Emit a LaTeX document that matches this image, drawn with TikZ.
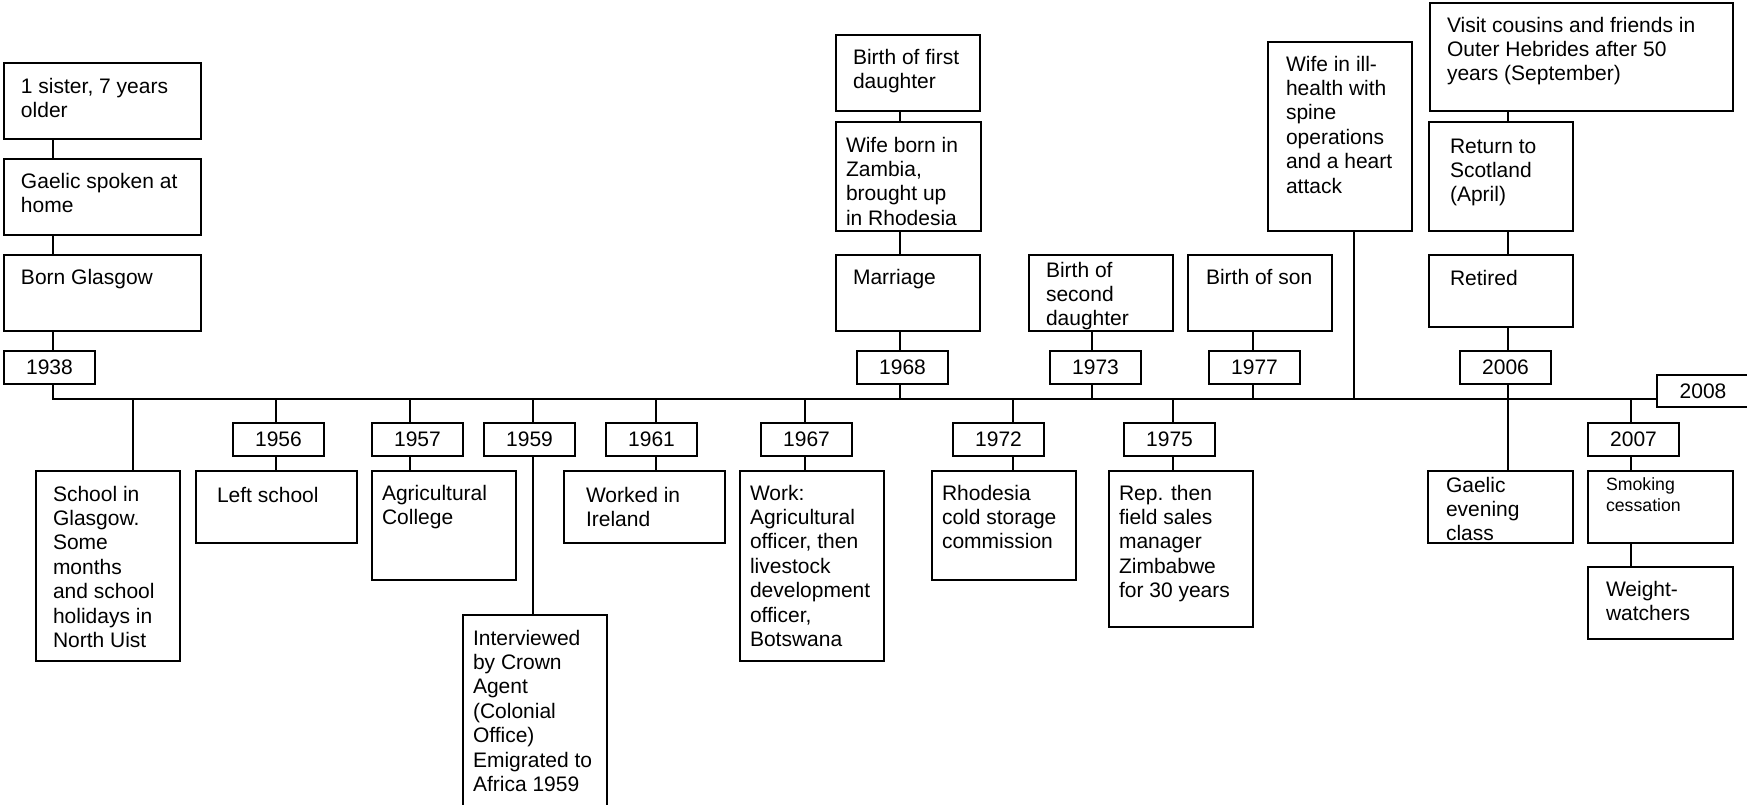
\documentclass[tikz,border=0pt]{standalone}
\usepackage{fontspec}
\setmainfont{Liberation Sans}

% event box: name, x1, y1, x2, y2, left padding, first baseline offset, text
\newcommand{\evbox}[8]{%
  \node[evt] (#1) at (#2,#3)
  {\parbox[c][\dimexpr #5pt-#3pt\relax][t]{\dimexpr #4pt-#2pt\relax}{%
     \raggedright\leftskip=#6pt\relax\parindent=0pt
     \hyphenpenalty=10000\exhyphenpenalty=10000
     \vspace*{\dimexpr #7pt-16pt\relax}\rule{0pt}{16pt}#8}};}

\begin{document}
\begin{tikzpicture}[x=1pt,y=-1pt,
  evt/.style={draw, line width=1.4pt, inner sep=0pt, outer sep=0pt,
              anchor=north west, font=\fontsize{21}{24.4}\selectfont},
  yr/.style={draw, line width=1.4pt, inner sep=0pt, outer sep=0pt,
             anchor=north west, minimum width=91pt, minimum height=33pt,
             font=\fontsize{21}{24.4}\selectfont},
  ln/.style={line width=1.4pt}]
\useasboundingbox (0,0) rectangle (1747,804);
\clip (0,0) rectangle (1747,804);

% ---- events above the timeline ----
\evbox{sister}{4}{63}{201}{139}{17}{30}{1 sister, 7 years\\older}
\evbox{gaelic}{4}{159}{201}{235}{17}{29}{Gaelic spoken at\\home}
\evbox{born}{4}{255}{201}{331}{17}{29}{Born Glasgow}
\node[yr] (y1938) at (4,351) {1938};

\evbox{firstd}{836}{35}{980}{111}{17}{29}{Birth of first\\daughter}
\evbox{wifeborn}{836}{122}{981}{231}{10}{30}{Wife born in\\Zambia,\\brought up\\in Rhodesia}
\evbox{marriage}{836}{255}{980}{331}{17}{29}{Marriage}
\node[yr] (y1968) at (857,351) {1968};

\evbox{secondd}{1029}{255}{1173}{331}{17}{22}{Birth of\\second\\daughter}
\node[yr] (y1973) at (1050,351) {1973};

\evbox{son}{1188}{255}{1332}{331}{18}{29}{Birth of son}
\node[yr] (y1977) at (1209,351) {1977};

\evbox{illhealth}{1268}{42}{1412}{231}{18}{29}{Wife in ill-\\health with\\spine\\operations\\and a heart\\attack}

\evbox{visit}{1430}{3}{1733}{111}{17}{29}{Visit cousins and friends in\\Outer Hebrides after 50\\years (September)}
\evbox{return}{1429}{122}{1573}{231}{21}{31}{Return to\\Scotland\\(April)}
\evbox{retired}{1429}{255}{1573}{327}{21}{30}{Retired}
\node[yr] (y2006) at (1460,351) {2006};

\node[yr, minimum width=92pt, minimum height=32pt] (y2008) at (1657,375) {2008};

% ---- events below the timeline ----
\evbox{school}{36}{471}{180}{661}{17}{30}{School in\\Glasgow.\\Some\\months\\and school\\holidays in\\North Uist}

\node[yr] (y1956) at (233,423) {1956};
\evbox{leftschool}{196}{471}{357}{543}{21}{31}{Left school}

\node[yr] (y1957) at (372,423) {1957};
\evbox{agri}{372}{471}{516}{580}{10}{29}{Agricultural\\College}

\node[yr] (y1959) at (484,423) {1959};
\evbox{interview}{463}{615}{607}{812}{10}{30}{Interviewed\\by Crown\\Agent\\(Colonial\\Office)\\Emigrated to\\Africa 1959}

\node[yr] (y1961) at (606,423) {1961};
\evbox{ireland}{564}{471}{725}{543}{22}{31}{Worked in\\Ireland}

\node[yr] (y1967) at (761,423) {1967};
\evbox{work}{740}{471}{884}{661}{10}{29}{Work:\\Agricultural\\officer, then\\livestock\\development\\officer,\\Botswana}

\node[yr] (y1972) at (953,423) {1972};
\evbox{rhodesia}{932}{471}{1076}{580}{10}{29}{Rhodesia\\cold storage\\commission}

\node[yr] (y1975) at (1124,423) {1975};
\evbox{rep}{1109}{471}{1253}{627}{10}{29}{Rep. then\\field sales\\manager\\Zimbabwe\\for 30 years}

\evbox{gclass}{1428}{471}{1573}{543}{18}{21}{Gaelic\\evening\\class}

\node[yr] (y2007) at (1588,423) {2007};
\evbox{smoking}{1588}{471}{1733}{543}{18}{19}{\fontsize{17.7}{21}\selectfont Smoking\\cessation}
\evbox{weight}{1588}{567}{1733}{639}{18}{29}{Weight-\\watchers}

% ---- tick positions on the timeline ----
\coordinate (tk38) at (53,399);
\coordinate (tkSc) at (133,399);
\coordinate (tk56) at (276,399);
\coordinate (tk57) at (410,399);
\coordinate (tk59) at (533,399);
\coordinate (tk61) at (656,399);
\coordinate (tk67) at (805,399);
\coordinate (tk68) at (900,399);
\coordinate (tk72) at (1013,399);
\coordinate (tk73) at (1092,399);
\coordinate (tk75) at (1173,399);
\coordinate (tk77) at (1253,399);
\coordinate (tkWi) at (1354,399);
\coordinate (tk06) at (1508,399);
\coordinate (tk07) at (1631,399);

% ---- timeline ----
\draw[ln] (y1938.south -| tk38) -- (tk38) -- (tk38 -| y2008.west);

% ---- connectors above ----
\draw[ln] (sister.south -| tk38) -- (gaelic.north -| tk38);
\draw[ln] (gaelic.south -| tk38) -- (born.north -| tk38);
\draw[ln] (born.south -| tk38) -- (y1938.north -| tk38);

\draw[ln] (tk68) -- (y1968.south -| tk68);
\draw[ln] (y1968.north -| tk68) -- (marriage.south -| tk68);
\draw[ln] (marriage.north -| tk68) -- (wifeborn.south -| tk68);
\draw[ln] (wifeborn.north -| tk68) -- (firstd.south -| tk68);

\draw[ln] (tk73) -- (y1973.south -| tk73);
\draw[ln] (y1973.north -| tk73) -- (secondd.south -| tk73);

\draw[ln] (tk77) -- (y1977.south -| tk77);
\draw[ln] (y1977.north -| tk77) -- (son.south -| tk77);

\draw[ln] (tkWi) -- (illhealth.south -| tkWi);

\draw[ln] (tk06) -- (y2006.south -| tk06);
\draw[ln] (y2006.north -| tk06) -- (retired.south -| tk06);
\draw[ln] (retired.north -| tk06) -- (return.south -| tk06);
\draw[ln] (return.north -| tk06) -- (visit.south -| tk06);

% ---- connectors below ----
\draw[ln] (tkSc) -- (school.north -| tkSc);

\draw[ln] (tk56) -- (y1956.north -| tk56);
\draw[ln] (y1956.south -| tk56) -- (leftschool.north -| tk56);

\draw[ln] (tk57) -- (y1957.north -| tk57);
\draw[ln] (y1957.south -| tk57) -- (agri.north -| tk57);

\draw[ln] (tk59) -- (y1959.north -| tk59);
\draw[ln] (y1959.south -| tk59) -- (interview.north -| tk59);

\draw[ln] (tk61) -- (y1961.north -| tk61);
\draw[ln] (y1961.south -| tk61) -- (ireland.north -| tk61);

\draw[ln] (tk67) -- (y1967.north -| tk67);
\draw[ln] (y1967.south -| tk67) -- (work.north -| tk67);

\draw[ln] (tk72) -- (y1972.north -| tk72);
\draw[ln] (y1972.south -| tk72) -- (rhodesia.north -| tk72);

\draw[ln] (tk75) -- (y1975.north -| tk75);
\draw[ln] (y1975.south -| tk75) -- (rep.north -| tk75);

\draw[ln] (tk06) -- (gclass.north -| tk06);

\draw[ln] (tk07) -- (y2007.north -| tk07);
\draw[ln] (y2007.south -| tk07) -- (smoking.north -| tk07);
\draw[ln] (smoking.south -| tk07) -- (weight.north -| tk07);
\end{tikzpicture}
\end{document}
